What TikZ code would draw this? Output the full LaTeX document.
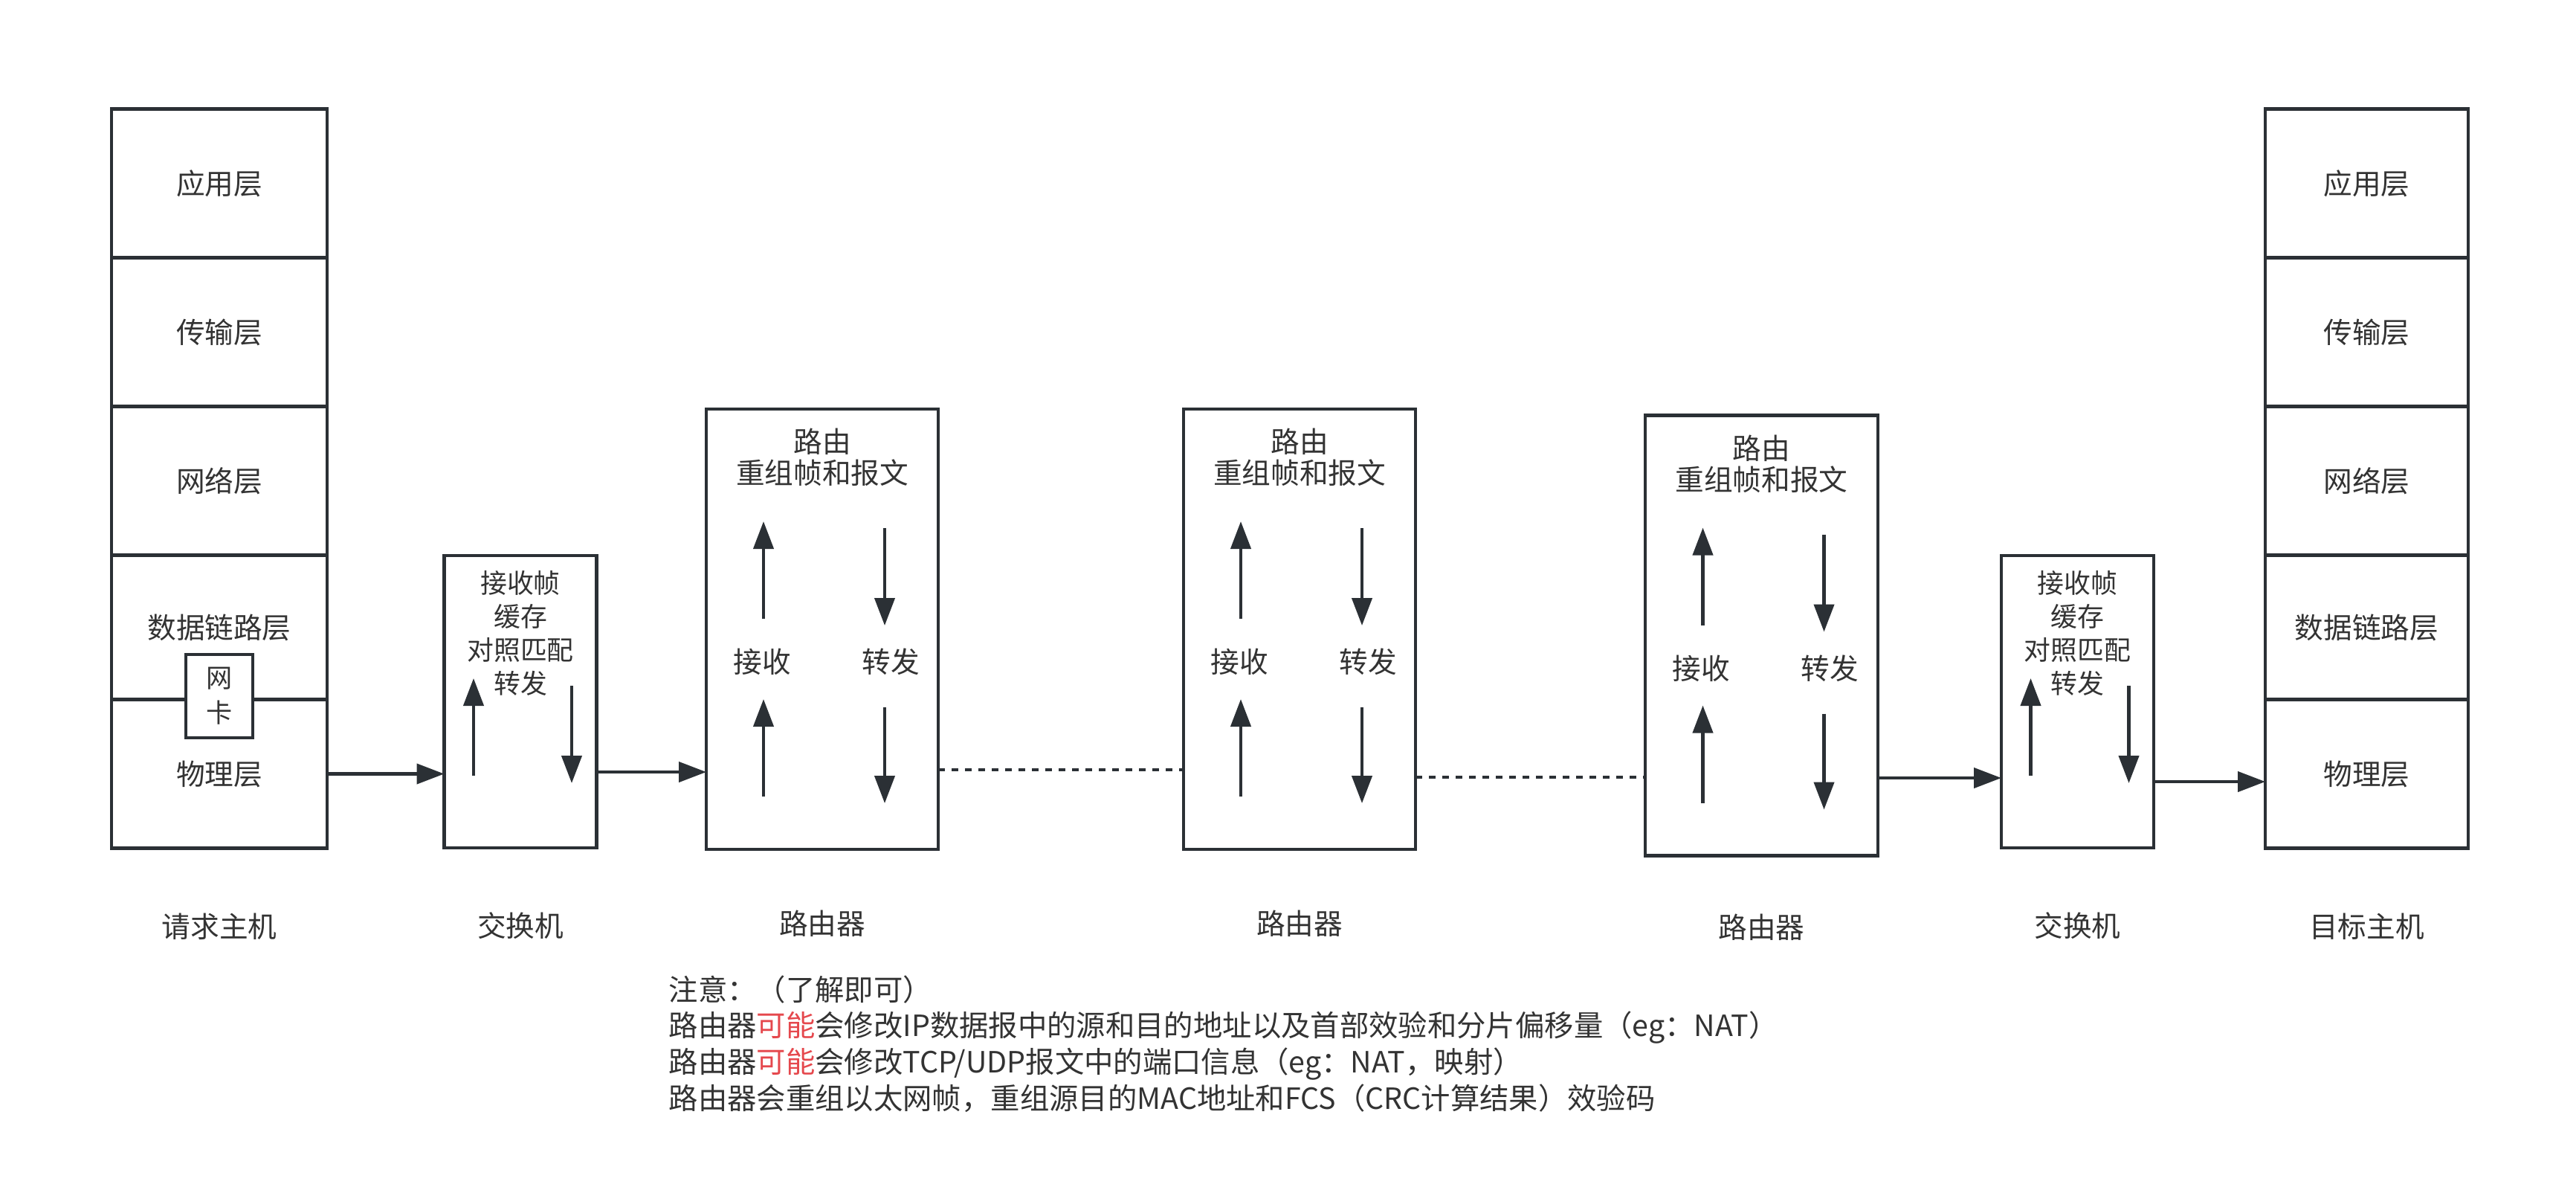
\documentclass[tikz,border=0pt]{standalone}
\usepackage{fontspec}
\setmainfont{Noto Sans CJK SC}
\usepackage{xcolor}
\usetikzlibrary{arrows.meta, positioning}
\definecolor{linegray}{HTML}{2B3035}
\definecolor{textgray}{HTML}{333333}
\definecolor{notered}{HTML}{E5484D}
\tikzset{
  layerbox/.style={rectangle, draw=linegray, line width=1.2pt, outer sep=0pt, minimum width=2.9cm, minimum height=2cm, text=textgray, font=\fontsize{11}{13}\selectfont},
  switchbox/.style={rectangle, draw=linegray, line width=1.2pt, outer sep=0pt, minimum width=2.05cm, minimum height=3.93cm},
  routerbox/.style={rectangle, draw=linegray, line width=1.2pt, outer sep=0pt, minimum width=3.12cm, minimum height=5.92cm},
  nicbox/.style={rectangle, draw=linegray, fill=white, line width=1.2pt, outer sep=0pt, inner sep=0pt, minimum width=0.9cm, minimum height=1.12cm, align=center, text=textgray, font=\fontsize{10}{13.4}\selectfont},
  boxtext/.style={inner sep=0pt, align=center, text=textgray, font=\fontsize{11}{11.9}\selectfont},
  switchtext/.style={inner sep=0pt, align=center, text=textgray, font=\fontsize{10.2}{12.8}\selectfont},
  caption/.style={inner sep=0pt, text=textgray, font=\fontsize{11}{13}\selectfont},
  notetext/.style={inner sep=0pt, align=left, text=textgray, font=\fontsize{11.2}{13.9}\selectfont},
  arrow/.style={line width=1.2pt, draw=linegray, -{Triangle[length=0.37cm, width=0.27cm]}},
  dotline/.style={line width=1.3pt, draw=linegray, dash pattern=on 0.09cm off 0.09cm}
}
\begin{document}
\begin{tikzpicture}
\useasboundingbox (0,0) rectangle (34.65,-15.95);

% Source host
\node (app1) [layerbox] at (2.95,-2.465) {应用层};
\node (trans1) [layerbox, below=0pt of app1] {传输层};
\node (net1) [layerbox, below=0pt of trans1] {网络层};
\node (link1) [layerbox, below=0pt of net1, minimum height=1.94cm] {数据链路层};
\node (phy1) [layerbox, below=0pt of link1] {物理层};
\node (nic) [nicbox] at ([yshift=0.045cm]link1.south) {网\\卡};

% Destination host
\node (app2) [layerbox, minimum width=2.73cm] at (31.835,-2.465) {应用层};
\node (trans2) [layerbox, minimum width=2.73cm, below=0pt of app2] {传输层};
\node (net2) [layerbox, minimum width=2.73cm, below=0pt of trans2] {网络层};
\node (link2) [layerbox, minimum width=2.73cm, below=0pt of net2, minimum height=1.94cm] {数据链路层};
\node (phy2) [layerbox, minimum width=2.73cm, below=0pt of link2] {物理层};

% Switches
\node (sw1) [switchbox] at (7.00,-9.435) {};
\node (sw2) [switchbox] at (27.945,-9.435) {};
\foreach \s in {sw1,sw2} {
  \node (\s-text) [switchtext] at ([yshift=0.925cm]\s.center) {接收帧\\缓存\\对照匹配\\转发};
  \draw[arrow] ([xshift=-0.63cm,yshift=-0.995cm]\s.center) -- ++(0,1.31);
  \draw[arrow] ([xshift=0.69cm,yshift=0.215cm]\s.center) -- ++(0,-1.31);
}

% Routers
\node (rt1) [routerbox] at (11.06,-8.46) {};
\node (rt2) [routerbox] at (17.48,-8.46) {};
\node (rt3) [routerbox, minimum width=3.13cm] at (23.695,-8.545) {};
\foreach \r in {rt1,rt2,rt3} {
  \node (\r-title) [boxtext] at ([yshift=2.31cm]\r.center) {路由\\重组帧和报文};
  \node (\r-recv) [boxtext] at ([xshift=-0.81cm,yshift=-0.44cm]\r.center) {接收};
  \node (\r-fwd) [boxtext] at ([xshift=0.92cm,yshift=-0.44cm]\r.center) {转发};
  \draw[arrow] ([xshift=-0.79cm,yshift=0.14cm]\r.center) -- ++(0,1.31);
  \draw[arrow] ([xshift=0.84cm,yshift=1.36cm]\r.center) -- ++(0,-1.31);
  \draw[arrow] ([xshift=-0.79cm,yshift=-2.25cm]\r.center) -- ++(0,1.31);
  \draw[arrow] ([xshift=0.84cm,yshift=-1.05cm]\r.center) -- ++(0,-1.29);
}

% Links
\coordinate (c2) at ([yshift=-0.945cm]sw1.east);
\coordinate (c3) at ([yshift=-1.89cm]rt1.east);
\coordinate (c4) at ([yshift=-1.99cm]rt2.east);
\coordinate (c5) at ([yshift=-1.915cm]rt3.east);
\coordinate (c6) at ([yshift=-1.075cm]sw2.east);
\draw[arrow] (phy1.east) -- (phy1.east -| sw1.west);
\draw[arrow] (c2) -- (c2 -| rt1.west);
\draw[dotline] (c3) -- (c3 -| rt2.west);
\draw[dotline] (c4) -- (c4 -| rt3.west);
\draw[arrow] (c5) -- (c5 -| sw2.west);
\draw[arrow] (c6) -- (c6 -| phy2.west);

% Captions
\node (cap-src) [caption] at ([yshift=-1.05cm]phy1.south) {请求主机};
\node (cap-sw1) [caption] at ([yshift=-1.05cm]sw1.south) {交换机};
\node (cap-rt1) [caption] at ([yshift=-1.0cm]rt1.south) {路由器};
\node (cap-rt2) [caption] at ([yshift=-1.0cm]rt2.south) {路由器};
\node (cap-rt3) [caption] at ([yshift=-0.96cm]rt3.south) {路由器};
\node (cap-sw2) [caption] at ([yshift=-1.05cm]sw2.south) {交换机};
\node (cap-dst) [caption] at ([yshift=-1.05cm]phy2.south) {目标主机};

% Notes
\node (notes) [notetext, anchor=west] at (8.99,-14.035) {注意：（了解即可）\\路由器{\color{notered}可能}会修改IP数据报中的源和目的地址以及首部效验和分片偏移量（eg：NAT）\\路由器{\color{notered}可能}会修改TCP/UDP报文中的端口信息（eg：NAT，映射）\\路由器会重组以太网帧，重组源目的MAC地址和FCS（CRC计算结果）效验码};

\end{tikzpicture}
\end{document}
